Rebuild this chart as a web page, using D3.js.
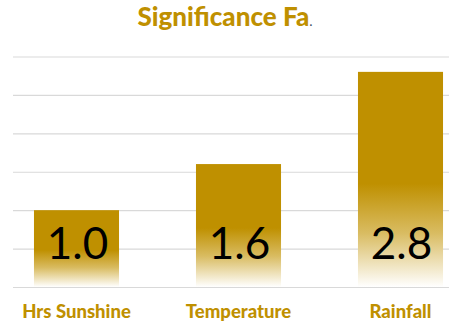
<!DOCTYPE html>
<html>
<head>
<meta charset="utf-8">
<script src="https://cdn.jsdelivr.net/npm/d3@7"></script>
<style>
  html, body { margin: 0; padding: 0; background: #fff; }
  svg { display: block; }
  text { font-family: Lato, "Open Sans", sans-serif; }
</style>
</head>
<body>
<svg id="chart" width="449" height="327"></svg>
<script>
// Factor significance values
const categories = ["Hrs Sunshine", "Temperature", "Rainfall"];
const values = [1.0, 1.6, 2.8];
const yTicks = [0, 0.5, 1.0, 1.5, 2.0, 2.5, 3.0];
const titleText = "Significance Fa";

const W = 449, H = 327;
const gold = "#BF9000";
const svg = d3.select("#chart");

const x = d3.scaleBand()
  .domain(categories)
  .range([-4.5, 481.5])
  .paddingInner(0.475)
  .paddingOuter(0.2375);

const y = d3.scaleLinear().domain([0, 3]).range([287, 56.5]);

// Gradient: solid gold in the upper half, fading to white at the base
const defs = svg.append("defs");
const grad = defs.append("linearGradient")
  .attr("id", "barFill")
  .attr("x1", 0).attr("y1", 0).attr("x2", 0).attr("y2", 1);
grad.append("stop").attr("offset", "0%").attr("stop-color", gold);
grad.append("stop").attr("offset", "52%").attr("stop-color", gold);
grad.append("stop").attr("offset", "75%").attr("stop-color", "#d9bc62");
grad.append("stop").attr("offset", "100%").attr("stop-color", "#ffffff");

// Horizontal gridlines
const yAxis = d3.axisLeft(y).tickValues(yTicks).tickSize(-(W - 13)).tickFormat("");
const gy = svg.append("g").attr("transform", "translate(13,0)").call(yAxis);
gy.select(".domain").remove();
gy.selectAll(".tick line").attr("stroke", "#d9d9d9").attr("stroke-width", 1.2);

// Bars
svg.append("g").selectAll("rect")
  .data(values)
  .join("rect")
  .attr("x", (d, i) => x(categories[i]))
  .attr("y", d => y(d))
  .attr("width", x.bandwidth())
  .attr("height", d => y(0) - y(d))
  .attr("fill", "url(#barFill)");

// Value labels at the inside base of each bar
svg.append("g").selectAll("text")
  .data(values)
  .join("text")
  .attr("x", (d, i) => x(categories[i]) + x.bandwidth() / 2 + 1)
  .attr("y", 259)
  .attr("text-anchor", "middle")
  .attr("font-size", 44)
  .attr("fill", "#000")
  .text(d => d.toFixed(1));

// Category labels
const xAxis = d3.axisBottom(x).tickSize(0).tickPadding(0);
const gx = svg.append("g").attr("transform", "translate(0,318)").call(xAxis);
gx.select(".domain").remove();
gx.selectAll(".tick text")
  .attr("dy", 0)
  .attr("font-family", "Lato, sans-serif")
  .attr("font-weight", 900)
  .attr("font-size", 18.5)
  .attr("fill", gold);

// Title
const title = svg.append("text")
  .attr("x", 225)
  .attr("y", 26)
  .attr("text-anchor", "middle")
  .attr("font-weight", 900)
  .attr("font-size", 26)
  .attr("fill", gold);
title.append("tspan").text(titleText);
title.append("tspan").attr("fill", "#44546A").attr("font-size", 14).attr("font-weight", "normal").text(".");
</script>
</body>
</html>
